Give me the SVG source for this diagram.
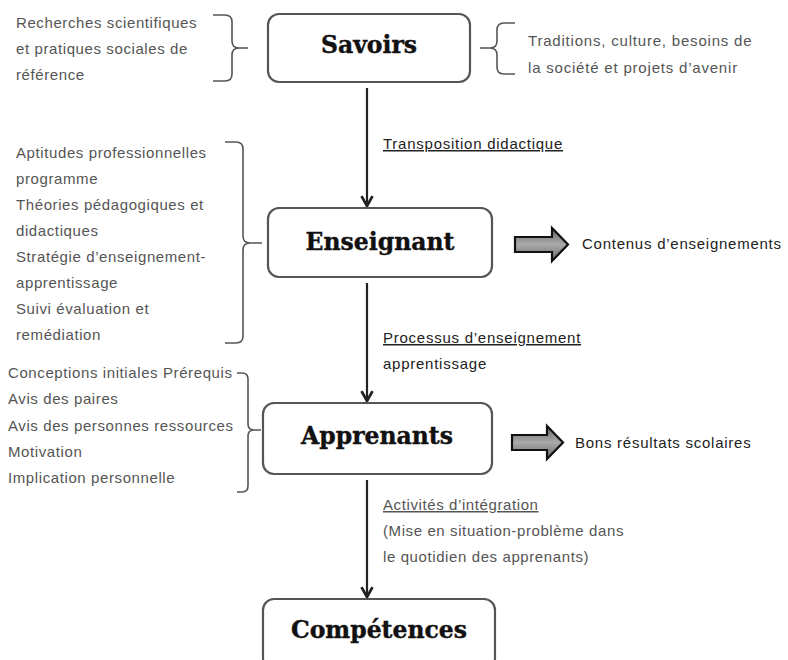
<svg xmlns="http://www.w3.org/2000/svg" width="788" height="660" viewBox="0 0 788 660">
<style>
.box{fill:#fff;stroke:#555;stroke-width:2.2}
.title{font-family:"DejaVu Serif",serif;font-weight:bold;font-size:23.5px;fill:#111;text-anchor:middle;stroke:#111;stroke-width:0.4}
.t{font-family:"Liberation Sans",Arial,sans-serif;font-size:15px;letter-spacing:0.6px;fill:#555}
.tw{letter-spacing:0.8px}
.d{font-family:"Liberation Sans",Arial,sans-serif;font-size:15px;letter-spacing:0.75px;fill:#222}
.u{text-decoration:underline}
.br{fill:none;stroke:#555;stroke-width:1.6}
.conn{stroke:#222;stroke-width:2.2;fill:none;marker-end:url(#ah)}
.blk{fill:url(#g);stroke:#111;stroke-width:2.2;stroke-linejoin:miter}
</style>
<defs>
<marker id="ah" viewBox="0 0 12 12" refX="10" refY="6" markerWidth="6" markerHeight="6" orient="auto" markerUnits="strokeWidth">
<path d="M1,1 L10,6 L1,11" fill="none" stroke="#222" stroke-width="2.5"/>
</marker>
<linearGradient id="g" x1="0" y1="0" x2="0" y2="1">
<stop offset="0" stop-color="#666"/><stop offset="0.5" stop-color="#aaa"/><stop offset="1" stop-color="#666"/>
</linearGradient>
</defs>
<rect width="788" height="660" fill="#fff"/>

<g id="connectors">
<line class="conn" x1="367" y1="88" x2="367" y2="206"/>
<line class="conn" x1="367" y1="283" x2="367" y2="401"/>
<line class="conn" x1="367" y1="480" x2="367" y2="597"/>
<text class="d u" x="383" y="149">Transposition didactique</text>
<text class="d u" x="383" y="343">Processus d’enseignement</text>
<text class="d" x="383" y="369">apprentissage</text>
<text class="t u" x="383" y="510">Activités d’intégration</text>
<text class="t" x="383" y="536">(Mise en situation-problème dans</text>
<text class="t" x="383" y="562">le quotidien des apprenants)</text>
</g>

<g id="savoirs">
<rect class="box" x="268" y="14" width="202" height="68" rx="11"/>
<text class="title" x="369" y="53">Savoirs</text>
</g>
<g id="savoirs-left">
<path class="br" d="M213,15 L225,15 Q232,15 232,22 L232,41 Q232,48 239,48 L248,48 M239,48 Q232,48 232,55 L232,74 Q232,81 225,81 L213,81"/>
<text class="t" x="16" y="28">Recherches scientifiques</text>
<text class="t" x="16" y="54">et pratiques sociales de</text>
<text class="t" x="16" y="80">référence</text>
</g>
<g id="savoirs-right">
<path class="br" d="M515,23 L504,23 Q497,23 497,30 L497,41 Q497,48 490,48 L480,48 M490,48 Q497,48 497,55 L497,67 Q497,74 504,74 L515,74"/>
<text class="t tw" x="528" y="46">Traditions, culture, besoins de</text>
<text class="t tw" x="528" y="73">la société et projets d’avenir</text>
</g>

<g id="enseignant">
<rect class="box" x="268" y="208" width="224" height="69" rx="11"/>
<text class="title" x="380" y="250">Enseignant</text>
</g>
<g id="enseignant-left">
<path class="br" d="M225,142 L236,142 Q243,142 243,149 L243,236 Q243,243 250,243 L262,243 M250,243 Q243,243 243,250 L243,336 Q243,343 236,343 L225,343"/>
<text class="t" x="16" y="158">Aptitudes professionnelles</text>
<text class="t" x="16" y="184">programme</text>
<text class="t" x="16" y="210">Théories pédagogiques et</text>
<text class="t" x="16" y="236">didactiques</text>
<text class="t" x="16" y="262">Stratégie d’enseignement-</text>
<text class="t" x="16" y="288">apprentissage</text>
<text class="t" x="16" y="314">Suivi évaluation et</text>
<text class="t" x="16" y="340">remédiation</text>
</g>
<g id="contenus">
<path class="blk" d="M515,237 L552,237 L552,228 L568,244.5 L552,261 L552,252 L515,252 Z"/>
<text class="d" x="582" y="249">Contenus d’enseignements</text>
</g>

<g id="apprenants">
<rect class="box" x="263" y="403" width="229" height="71" rx="11"/>
<text class="title" x="377" y="444">Apprenants</text>
</g>
<g id="apprenants-left">
<path class="br" d="M237,373 L242,373 Q248,373 248,379 L248,424 Q248,430 254,430 L261,430 M254,430 Q248,430 248,436 L248,486 Q248,492 242,492 L237,492"/>
<text class="t" x="8" y="378">Conceptions initiales Prérequis</text>
<text class="t" x="8" y="404">Avis des paires</text>
<text class="t" x="8" y="431">Avis des personnes ressources</text>
<text class="t" x="8" y="457">Motivation</text>
<text class="t" x="8" y="483">Implication personnelle</text>
</g>
<g id="resultats">
<path class="blk" d="M512,435 L547,435 L547,426 L563,442.5 L547,459 L547,450 L512,450 Z"/>
<text class="d" x="575" y="448">Bons résultats scolaires</text>
</g>

<g id="competences">
<rect class="box" x="263" y="599" width="232" height="70" rx="11"/>
<text class="title" x="379" y="638">Compétences</text>
</g>
</svg>
